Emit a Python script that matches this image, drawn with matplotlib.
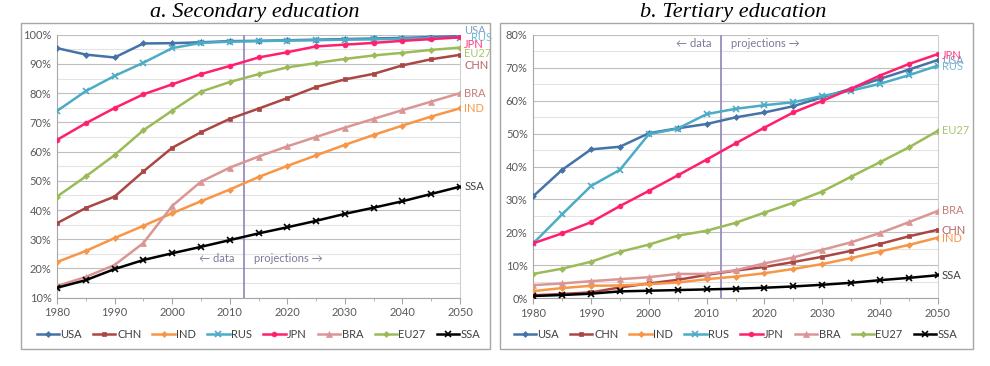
import matplotlib.pyplot as plt
from matplotlib.patches import Rectangle
from matplotlib.ticker import MultipleLocator, FuncFormatter

plt.rcParams['font.family'] = ['Lato', 'DejaVu Sans']

years = [1980, 1985, 1990, 1995, 2000, 2005, 2010, 2015,
         2020, 2025, 2030, 2035, 2040, 2045, 2050]

# a. Secondary education (%)
sec_usa = [95.4, 93.2, 92.2, 97.0, 97.1, 97.4, 97.8, 97.9, 98.1, 98.3, 98.5, 98.7, 98.9, 99.2, 99.5]
sec_chn = [35.5, 40.7, 44.6, 53.2, 61.3, 66.6, 71.2, 74.7, 78.3, 82.1, 84.7, 86.6, 89.5, 91.6, 93.1]
sec_ind = [22.2, 26.0, 30.4, 34.6, 38.9, 43.0, 47.0, 51.3, 55.1, 58.7, 62.3, 65.7, 68.9, 72.0, 74.8]
sec_rus = [73.9, 80.7, 85.9, 90.4, 95.4, 97.2, 97.6, 97.8, 98.0, 98.1, 98.3, 98.4, 98.6, 98.8, 99.0]
sec_jpn = [64.0, 69.7, 74.9, 79.6, 83.0, 86.5, 89.3, 92.2, 94.0, 96.0, 96.6, 97.2, 97.9, 98.5, 99.1]
sec_bra = [14.0, 17.1, 21.2, 28.7, 41.4, 49.7, 54.5, 58.3, 61.8, 65.0, 68.2, 71.2, 74.2, 77.1, 80.0]
sec_eu27 = [44.6, 51.5, 58.8, 67.3, 74.0, 80.5, 83.8, 86.5, 88.8, 90.3, 91.7, 92.9, 93.8, 94.8, 95.6]
sec_ssa = [13.4, 16.0, 19.8, 22.9, 25.2, 27.4, 29.7, 32.0, 34.1, 36.3, 38.7, 40.8, 43.0, 45.5, 48.0]

# b. Tertiary education (%)
ter_usa = [31.0, 39.0, 45.2, 46.0, 50.1, 51.6, 52.9, 54.9, 56.4, 58.3, 61.0, 63.6, 66.6, 69.4, 72.3]
ter_chn = [0.9, 1.3, 1.8, 3.3, 4.5, 5.6, 7.1, 8.4, 9.5, 11.0, 12.6, 14.4, 16.5, 18.8, 20.8]
ter_ind = [2.2, 3.1, 3.8, 3.9, 4.3, 4.8, 5.8, 6.6, 7.6, 8.9, 10.4, 12.2, 14.2, 16.2, 18.4]
ter_rus = [16.7, 25.5, 34.1, 39.0, 49.8, 51.5, 55.9, 57.5, 58.6, 59.5, 61.4, 63.0, 65.1, 67.7, 70.6]
ter_jpn = [16.7, 19.7, 23.1, 28.0, 32.6, 37.3, 42.1, 47.0, 51.8, 56.4, 59.9, 63.6, 67.6, 71.1, 74.1]
ter_bra = [4.0, 4.5, 5.2, 5.8, 6.4, 7.4, 7.4, 8.5, 10.6, 12.4, 14.7, 17.0, 19.8, 23.1, 26.5]
ter_eu27 = [7.4, 9.0, 11.1, 14.1, 16.3, 19.0, 20.5, 22.9, 26.0, 29.0, 32.4, 36.9, 41.3, 45.8, 50.8]
ter_ssa = [0.7, 1.0, 1.4, 2.1, 2.3, 2.5, 2.7, 2.9, 3.2, 3.6, 4.1, 4.7, 5.5, 6.2, 7.0]

names = ['USA', 'CHN', 'IND', 'RUS', 'JPN', 'BRA', 'EU27', 'SSA']
colors = ['#4572A7', '#AA4643', '#F79646', '#4BACC6', '#FF1F6E', '#D99694', '#9BBB59', '#000000']
label_colors = ['#7E9CC4', '#B86462', '#F79646', '#6FBDD3', '#FF3A7E', '#C97A78', '#A9C46E', '#404040']
markers = ['D', 's', 'D', 'x', 'o', '^', 'D', 'x']
msizes = [3, 3.5, 3, 5, 3.5, 4.5, 3, 4]

secondary = [sec_usa, sec_chn, sec_ind, sec_rus, sec_jpn, sec_bra, sec_eu27, sec_ssa]
tertiary = [ter_usa, ter_chn, ter_ind, ter_rus, ter_jpn, ter_bra, ter_eu27, ter_ssa]

# label heights at the right end (in data units)
sec_label_y = [101.3, 89.6, 74.9, 99.1, 96.7, 80.0, 93.6, 48.2]
ter_label_y = [72.1, 20.7, 18.2, 70.3, 73.8, 26.5, 50.8, 7.0]
# small extra shift right for labels that sit on top of each other
sec_label_dx = [3, 3, 3, 8, 3, 3, 3, 3]
ter_label_dx = [3, 3, 3, 3, 3, 3, 3, 3]

fig = plt.figure(figsize=(9.9, 3.66), dpi=100)
W, H = 990, 366


def frame(x0, y0, x1, y1):
    fig.patches.append(Rectangle((x0 / W, 1 - y1 / H), (x1 - x0) / W, (y1 - y0) / H,
                                 transform=fig.transFigure, fill=False,
                                 edgecolor='#A6A6A6', linewidth=1))


frame(21, 23, 490, 349)
frame(500, 23, 973, 349)

ax1 = fig.add_axes([57 / W, 1 - 297.7 / H, 403 / W, 263 / H])
ax2 = fig.add_axes([533.3 / W, 1 - 298.3 / H, 404.4 / W, 263.6 / H])

fig.text(255 / W, 1 - 12 / H, 'a. Secondary education', ha='center', va='center',
         fontsize=16, style='italic', family='Liberation Serif')
fig.text(733 / W, 1 - 12 / H, 'b. Tertiary education', ha='center', va='center',
         fontsize=16, style='italic', family='Liberation Serif')

for ax, data, lab_y, lab_dx, ylim in [(ax1, secondary, sec_label_y, sec_label_dx, (10, 100)),
                                      (ax2, tertiary, ter_label_y, ter_label_dx, (0, 80))]:
    for i, name in enumerate(names):
        ax.plot(years, data[i], color=colors[i], marker=markers[i], markersize=msizes[i],
                markeredgewidth=1.2 if markers[i] == 'x' else 0.5, linewidth=1.8,
                label=name, zorder=3)
        ax.annotate(name, xy=(2050, lab_y[i]), xytext=(lab_dx[i], 0),
                    textcoords='offset points', color=label_colors[i], fontsize=8,
                    va='center', ha='left', annotation_clip=False)
    ax.set_xlim(1980, 2050)
    ax.set_ylim(*ylim)
    ax.xaxis.set_major_locator(MultipleLocator(10))
    ax.xaxis.set_minor_locator(MultipleLocator(5))
    ax.yaxis.set_major_locator(MultipleLocator(10))
    ax.yaxis.set_minor_locator(MultipleLocator(5))
    ax.yaxis.set_major_formatter(FuncFormatter(lambda v, p: f'{v:.0f}%'))
    ax.grid(axis='y', which='major', color='#BFBFBF', linewidth=0.8)
    ax.grid(axis='y', which='minor', color='#E3E3E3', linewidth=0.8)
    ax.set_axisbelow(True)
    ax.spines['top'].set_visible(False)
    ax.spines['left'].set_color('#A6A6A6')
    ax.spines['right'].set_color('#D0D0D0')
    ax.spines['bottom'].set_color('#A6A6A6')
    ax.tick_params(axis='y', which='both', length=0, labelsize=8, labelcolor='#595959', pad=4)
    ax.tick_params(axis='x', which='major', length=4, color='#A6A6A6', labelsize=8,
                   labelcolor='#595959', pad=3)
    ax.tick_params(axis='x', which='minor', length=2, color='#A6A6A6')
    ax.axvline(2012.5, color='#9A8CC0', linewidth=1.3, zorder=2)
    ax.legend(loc='upper center', bbox_to_anchor=(0.5, -0.08), ncol=8, frameon=False,
              fontsize=8, handlelength=2.0, handletextpad=0.15, columnspacing=1.0,
              labelcolor='#404040')

ax1.text(2010.9, 23.3, '← data', color='#7F7799', fontsize=8, ha='right', va='center')
ax1.text(2014.2, 23.3, 'projections →', color='#7F7799', fontsize=8, ha='left', va='center')
ax2.text(2010.9, 77.4, '← data', color='#7F7799', fontsize=8, ha='right', va='center')
ax2.text(2014.2, 77.4, 'projections →', color='#7F7799', fontsize=8, ha='left', va='center')

fig.savefig('out.png', dpi=100)
